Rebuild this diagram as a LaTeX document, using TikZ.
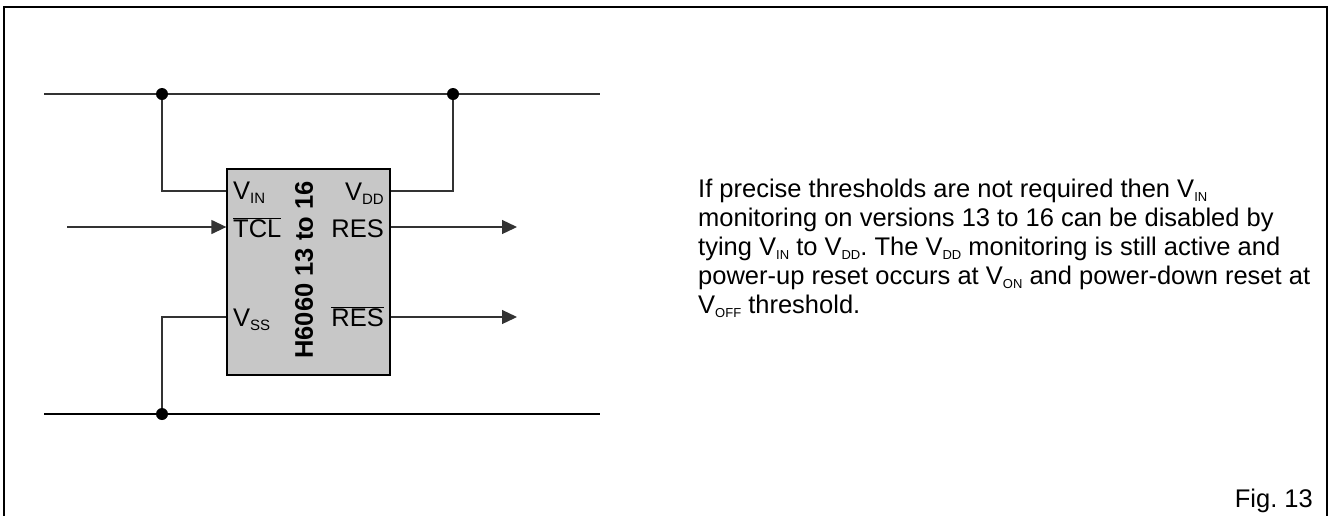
\documentclass[tikz,border=0pt]{standalone}
\usepackage{fontspec}
\setmainfont{Liberation Sans}
\usetikzlibrary{arrows.meta}
\newcommand{\sbs}[2][13]{\raisebox{-4.5pt}{\fontsize{#1}{#1}\selectfont #2}}
\frenchspacing

\begin{document}
\begin{tikzpicture}[x=1pt,y=-1pt,font=\fontsize{25.5}{29}\selectfont,
		wire/.style={line width=1.3pt,draw=black!80},
		sig/.style={wire,-{Triangle[length=15pt,width=14pt]}},
		pin/.style={inner sep=0pt}]
	\useasboundingbox (0,0) rectangle (1332,515);
	\draw[line width=1.6pt] (4,525) -- (4,7) -- (1327,7) -- (1327,525);
	% the chip
	\node[draw,line width=1.3pt,fill=black!22,minimum width=163pt,minimum height=206pt,inner sep=0pt] (chip) at (308.5,272) {};
	\node[rotate=90,inner sep=0pt,font=\fontsize{25.5}{25.5}\selectfont\bfseries] (type) at (304,270) {H6060 13 to 16};
	\node[pin,anchor=base west] (vin) at (233,199) {V\sbs[15]{IN}};
	\node[pin,anchor=base west] (tcl) at (233,237) {$\overline{\mbox{TCL}}$};
	\node[pin,anchor=base west] (vss) at (233,326) {V\sbs[15]{SS}};
	\node[pin,anchor=base east] (vdd) at (384,200) {V\sbs[15]{DD}};
	\node[pin,anchor=base east] (res) at (384,237) {RES};
	\node[pin,anchor=base east] (nres) at (384,326) {$\overline{\mbox{RES}}$};
	% rails and junctions
	\coordinate (topL) at (44,94);
	\coordinate (topR) at (600,94);
	\coordinate (botL) at (44,414);
	\coordinate (botR) at (600,414);
	\coordinate (j1) at (162,94);
	\coordinate (j2) at (453,94);
	\coordinate (j3) at (162,414);
	\coordinate (tclin) at (67,227);
	\coordinate (resout) at (517,227);
	\coordinate (nresout) at (517,317);
	\coordinate (pvin) at (chip.west |- 0,191);
	\coordinate (ptcl) at (chip.west |- 0,227);
	\coordinate (pvss) at (chip.west |- 0,317);
	\coordinate (pvdd) at (chip.east |- 0,191);
	\coordinate (pres) at (chip.east |- 0,227);
	\coordinate (pnres) at (chip.east |- 0,317);
	\draw[wire] (topL) -- (topR);
	\draw[line width=2pt] (botL) -- (botR);
	\draw[wire] (j1) |- (pvin);
	\draw[wire] (j2) |- (pvdd);
	\draw[wire] (j3) |- (pvss);
	\draw[sig] (tclin) -- (ptcl);
	\draw[sig] (pres) -- (resout);
	\draw[sig] (pnres) -- (nresout);
	\foreach \j in {j1,j2,j3}
		\fill (\j) circle (6pt);
	% text
	\node[pin,anchor=base west,align=left] (note) at (698,313) {If precise thresholds are not required then V\sbs{IN}\\
		monitoring on versions 13 to 16 can be disabled by\\
		tying V\sbs{IN} to V\sbs{DD}. The V\sbs{DD} monitoring is still active and\\
		power-up reset occurs at V\sbs{ON} and power-down reset at\\
		V\sbs{OFF} threshold.};
	\node[pin,anchor=base east] (fig) at (1313,507) {Fig. 13};
\end{tikzpicture}
\end{document}
